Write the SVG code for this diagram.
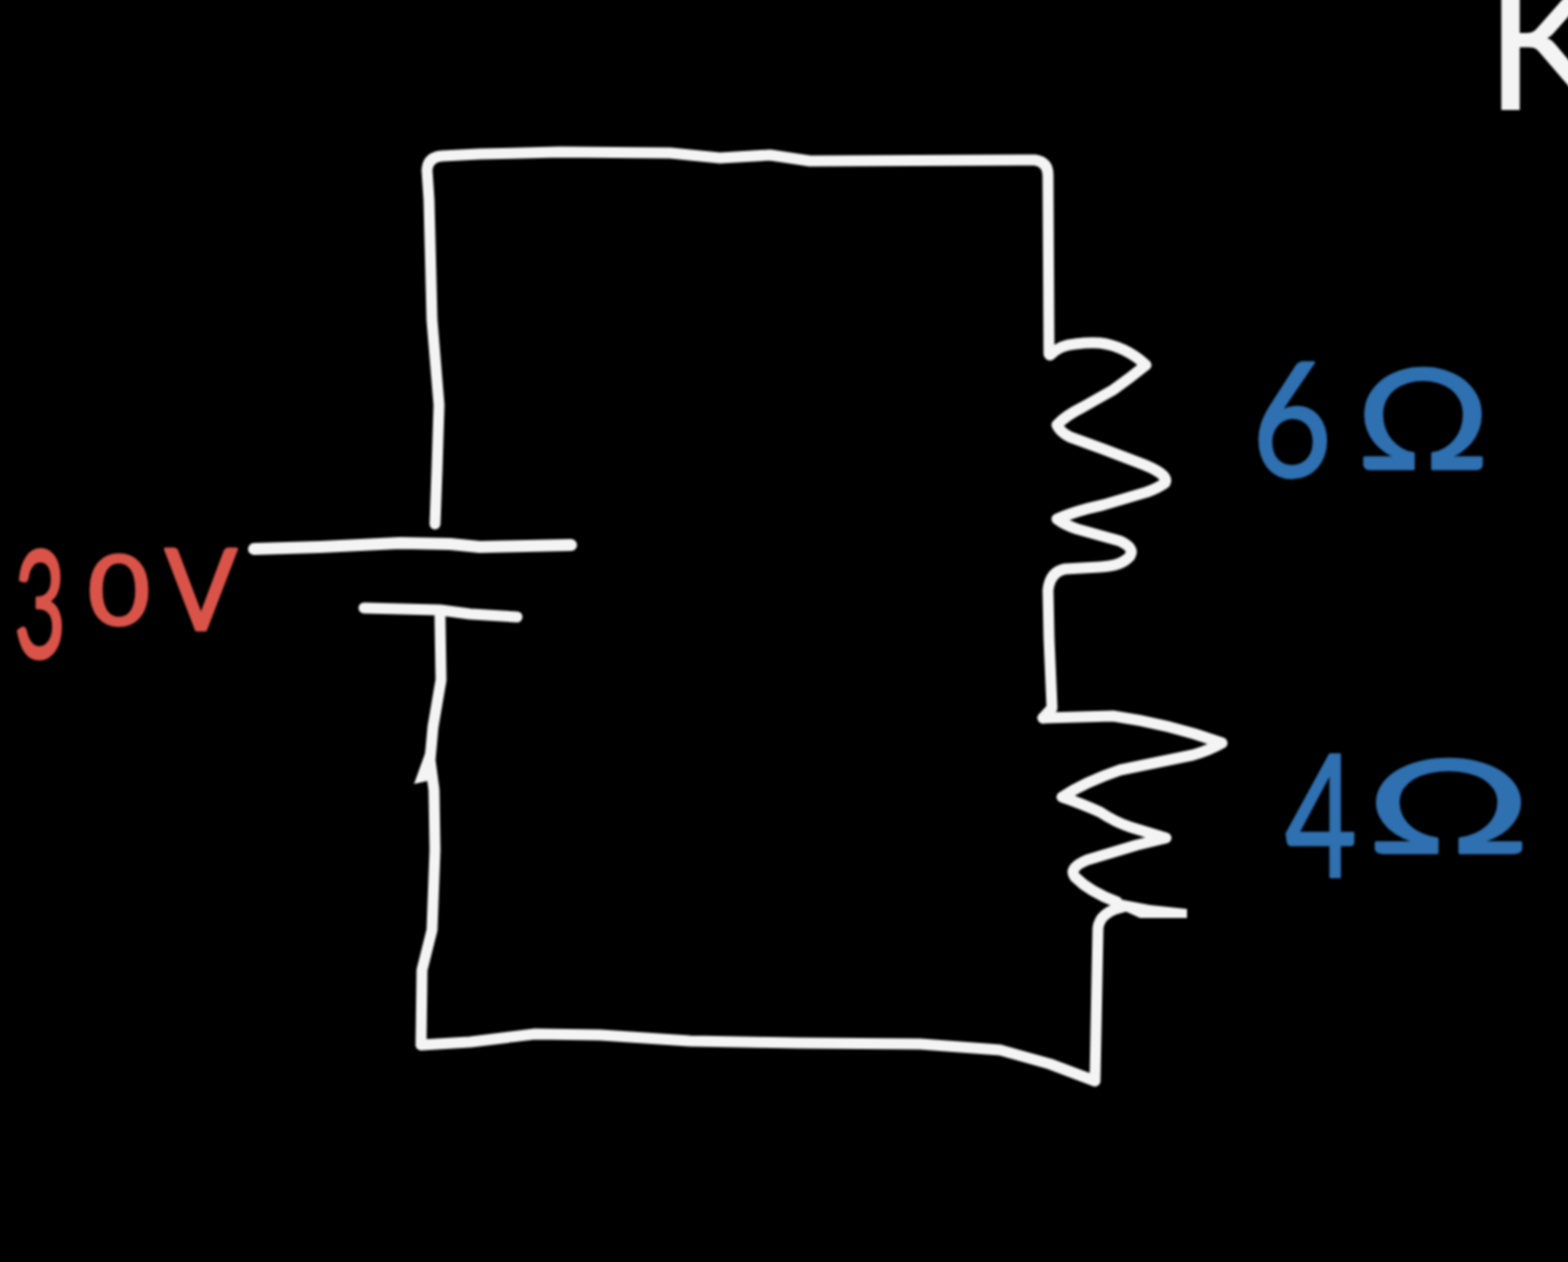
<svg xmlns="http://www.w3.org/2000/svg" width="1568" height="1262" viewBox="0 0 1568 1262">
<defs><filter id="soft" x="-5%" y="-5%" width="110%" height="110%"><feGaussianBlur stdDeviation="1.1"/></filter></defs>
<style>
.wire{fill:none;stroke:#f4f4f4;stroke-width:11;stroke-linecap:round;stroke-linejoin:round}
.solid{fill:#f4f4f4;stroke:none}
.lbl{font-family:"Lato","Liberation Sans",sans-serif;font-weight:400;stroke-linejoin:round}
.red{fill:#d9534a;stroke:#d9534a;stroke-width:3}
.blue{fill:#2f6fb0;stroke:#2f6fb0;stroke-width:2.5}
</style>
<rect width="1568" height="1262" fill="#000"/>
<g filter="url(#soft)">
<g id="connectors">
<path class="wire" d="M435 524 L437 470 L439 405 L432 320 L429 200 L427 170 Q428 157 442 156 L480 154 L560 152 L670 153 L720 158 L770 155 L810 161 L1035 160 Q1048 162 1048 175 L1049 354"/>
<path class="wire" d="M440 617 L441 680 L433 727 L430 760 L434 790 L435 850 L432 930 L422 970 L421 1045 L470 1042 L535 1034 L600 1035 L690 1041 L800 1043 L920 1044 L1000 1050 L1050 1064 L1095 1081 L1098 928 Q1100 912 1123 907"/>
<polygon class="solid" points="428,745 414,784 436,779"/>
</g>
<g id="battery">
<path class="wire" style="stroke-width:12" d="M254 549 L320 547 L400 543 L450 544 L480 547 L571 545"/>
<path class="wire" d="M364 608 L440 610 L470 614 L517 617"/>
</g>
<g id="resistor-6">
<path class="wire" d="M1050 355 Q1060 345 1075 344 Q1090 342 1100 343 Q1125 346 1146 365 Q1130 378 1113 390 L1083 407 Q1065 416 1057 425 Q1060 432 1070 437 L1103 449 L1137 462 Q1170 474 1165 483 Q1158 488 1147 492 L1103 505 Q1075 511 1057 519 Q1065 525 1077 529 L1120 541 Q1135 548 1130 556 Q1122 566 1100 567 L1065 569 Q1050 572 1048 590 L1049 638 L1052 708 L1043 718"/>
</g>
<g id="resistor-4">
<path class="wire" d="M1043 718 L1113 716 Q1170 724 1222 743 Q1210 750 1193 755 L1120 770 Q1085 782 1062 797 Q1080 803 1100 812 Q1115 822 1130 827 L1166 838 L1137 845 L1087 860 Q1068 868 1075 877 Q1090 892 1117 902"/>
<polygon class="solid" points="1113,898 1150,905 1187,909 1187,918 1140,918 1118,908"/>
</g>
<g id="label-30V"><text class="lbl red"><tspan x="14" y="658" font-size="150" textLength="52" lengthAdjust="spacingAndGlyphs">3</tspan><tspan x="88" y="625" font-size="97" textLength="62" lengthAdjust="spacingAndGlyphs">0</tspan><tspan x="165" y="630" font-size="112" textLength="72" lengthAdjust="spacingAndGlyphs">V</tspan></text></g>
<g id="label-6"><text class="lbl blue"><tspan x="1252" y="477" font-size="160" textLength="80" lengthAdjust="spacingAndGlyphs">6</tspan><tspan x="1356" y="469" font-size="140" textLength="134" lengthAdjust="spacingAndGlyphs">Ω</tspan></text></g>
<g id="label-4"><text class="lbl blue"><tspan x="1285" y="877" font-size="170" textLength="72" lengthAdjust="spacingAndGlyphs">4</tspan><tspan x="1366" y="853" font-size="130" textLength="165" lengthAdjust="spacingAndGlyphs">Ω</tspan></text></g>
<g id="label-K"><text class="lbl" fill="#f4f4f4" x="1484" y="110" font-size="190">K</text></g>
</g>
</svg>
